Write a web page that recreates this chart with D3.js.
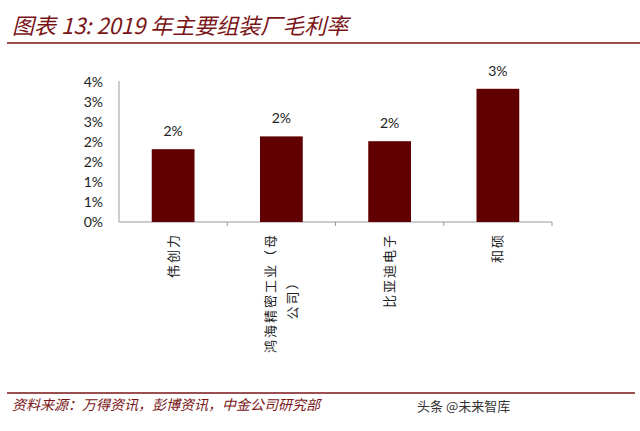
<!DOCTYPE html>
<html>
<head>
<meta charset="utf-8">
<script src="https://cdn.jsdelivr.net/npm/d3@7"></script>
<style>
  body { margin: 0; background: #fff; }
  svg { display: block; }
</style>
</head>
<body>
<div id="chart"></div>
<script>
// chart data
const categories = ['伟创力', '鸿海精密工业（母公司）', '比亚迪电子', '和硕']
const catLines = [['伟创力'], ['鸿海精密工业（母', '公司）'], ['比亚迪电子'], ['和硕']]
const margins = [1.82, 2.14, 2.02, 3.33]   // gross margin, %
const yTicks = [0, 0.5, 1, 1.5, 2, 2.5, 3, 3.5]
const yTickLabels = ['0%', '1%', '1%', '2%', '2%', '3%', '3%', '4%']

const titleText = '图表 13: 2019 年主要组装厂毛利率'
const sourceText = '资料来源：万得资讯，彭博资讯，中金公司研究部'
const markText = '头条 @未来智库'

const W = 640, H = 431
const dims = { left: 119, right: 552, top: 82, bottom: 222 }
const red = '#7a1517'
const barColor = '#600000'
const cjk = '"Noto Sans CJK SC", sans-serif'
const num = 'Lato, "Noto Sans", sans-serif'

const svg = d3.select('#chart').append('svg')
  .attr('width', W).attr('height', H)

// title + rule
svg.append('text')
  .attr('x', 12).attr('y', 34)
  .style('font-family', cjk)
  .style('font-style', 'italic')
  .style('font-size', '22px')
  .attr('fill', red)
  .text(titleText)

svg.append('line')
  .attr('x1', 7).attr('x2', 640).attr('y1', 43).attr('y2', 43)
  .attr('stroke', red).attr('stroke-width', 1.5)

// scales
const x = d3.scaleBand().domain(categories).range([dims.left, dims.right]).padding(0)
const y = d3.scaleLinear().domain([0, 3.5]).range([dims.bottom, dims.top])

// y axis: line + labels, no ticks
svg.append('line')
  .attr('x1', dims.left).attr('x2', dims.left)
  .attr('y1', y(3.5) - 1).attr('y2', dims.bottom)
  .attr('stroke', '#999').attr('stroke-width', 1)

svg.append('g').selectAll('text')
  .data(yTicks)
  .join('text')
    .attr('x', 103)
    .attr('y', d => y(d))
    .attr('dy', '0.35em')
    .attr('text-anchor', 'end')
    .style('font-family', num)
    .style('font-size', '14px')
    .attr('fill', '#222')
    .text((d, i) => yTickLabels[i])

// x axis with ticks at band edges
const xAxis = svg.append('g')
  .attr('transform', 'translate(0,' + dims.bottom + ')')
xAxis.append('line')
  .attr('x1', dims.left).attr('x2', dims.right)
  .attr('stroke', '#999')
xAxis.selectAll('line.tick')
  .data(categories)
  .join('line')
    .attr('class', 'tick')
    .attr('x1', d => x(d) + x.bandwidth()).attr('x2', d => x(d) + x.bandwidth())
    .attr('y1', 0).attr('y2', 4)
    .attr('stroke', '#999')

// bars
const bw = x.bandwidth() * 0.395
svg.append('g').selectAll('rect')
  .data(margins)
  .join('rect')
    .attr('x', (d, i) => x(categories[i]) + x.bandwidth() / 2 - bw / 2)
    .attr('width', bw)
    .attr('y', d => y(d))
    .attr('height', d => dims.bottom - y(d))
    .attr('fill', barColor)

// value labels
svg.append('g').selectAll('text')
  .data(margins)
  .join('text')
    .attr('x', (d, i) => x(categories[i]) + x.bandwidth() / 2)
    .attr('y', d => y(d) - 13)
    .attr('text-anchor', 'middle')
    .style('font-family', num)
    .style('font-size', '14px')
    .attr('fill', '#222')
    .text(d => Math.round(d) + '%')

// rotated category labels
const lh = 22
catLines.forEach((lines, i) => {
  const cx = x(categories[i]) + x.bandwidth() / 2
  const g = svg.append('g')
    .attr('transform', 'translate(' + cx + ',' + (dims.bottom + 11) + ') rotate(-90)')
  lines.forEach((ln, j) => {
    const off = (j - (lines.length - 1) / 2) * lh
    const t = g.append('text')
      .attr('y', off)
      .attr('dy', '0.35em')
      .style('font-family', cjk)
      .style('font-size', '13px')
      .style('letter-spacing', '2px')
      .attr('fill', '#222')
      .text(ln)
    if (j === 0) {
      t.attr('x', 0).attr('text-anchor', 'end')
    } else {
      // centre the wrapped line within the first line's span
      const w0 = g.select('text').node().getComputedTextLength()
      t.attr('x', -w0 / 2 - 4).attr('text-anchor', 'middle')
    }
  })
})

// footer
svg.append('line')
  .attr('x1', 7).attr('x2', 635).attr('y1', 393).attr('y2', 393)
  .attr('stroke', red).attr('stroke-width', 1.5)

svg.append('text')
  .attr('x', 12).attr('y', 410)
  .style('font-family', cjk)
  .style('font-style', 'italic')
  .style('font-size', '14px')
  .attr('fill', red)
  .text(sourceText)

svg.append('text')
  .attr('x', 417).attr('y', 411)
  .style('font-family', cjk)
  .style('font-size', '13px')
  .attr('fill', '#333')
  .text(markText)
</script>
</body>
</html>
